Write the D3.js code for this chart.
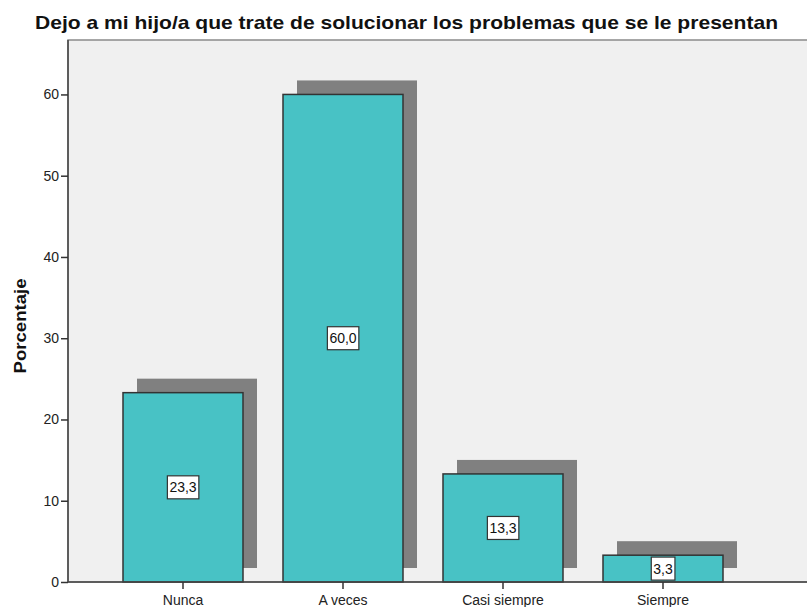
<!DOCTYPE html>
<html>
<head>
<meta charset="utf-8">
<script src="https://cdn.jsdelivr.net/npm/d3@7"></script>
<style>
  body { margin: 0; background: #fff; }
  text { font-family: "Liberation Sans", Arial, sans-serif; }
</style>
</head>
<body>
<svg width="807" height="607"></svg>
<script>
var categories = ["Nunca", "A veces", "Casi siempre", "Siempre"];
var values = [23.3, 60.0, 13.3, 3.3];
var yTicks = [0, 10, 20, 30, 40, 50, 60];

var svg = d3.select("svg"),
    width = +svg.attr("width"),
    height = +svg.attr("height"),
    margin = {top: 40, right: 0, bottom: 25, left: 68};

var y = d3.scaleLinear()
    .domain([0, 66.7])
    .range([height - margin.bottom, margin.top]);

var x = d3.scaleBand()
    .domain(categories)
    .range([103, 743])
    .paddingInner(0.25)
    .paddingOuter(0.125);

var shadow = 14;

// plot background
svg.append("rect")
    .attr("x", margin.left)
    .attr("y", margin.top)
    .attr("width", width - margin.left + 2)
    .attr("height", y(0) - margin.top)
    .attr("fill", "#f0f0f0")
    .attr("stroke", "#8a8a8a")
    .attr("stroke-width", 1.5);

// shadows
svg.append("g")
    .attr("fill", "#808080")
  .selectAll("rect")
  .data(values)
  .enter().append("rect")
    .attr("x", function(d, i) { return x(categories[i]) + shadow; })
    .attr("y", function(d) { return y(d) - shadow; })
    .attr("width", x.bandwidth())
    .attr("height", function(d) { return y(0) - y(d); });

// bars
svg.append("g")
  .selectAll("rect")
  .data(values)
  .enter().append("rect")
    .attr("x", function(d, i) { return x(categories[i]); })
    .attr("y", function(d) { return y(d); })
    .attr("width", x.bandwidth())
    .attr("height", function(d) { return y(0) - y(d); })
    .attr("fill", "#48c2c5")
    .attr("stroke", "#333")
    .attr("stroke-width", 1.5);

// value labels
var lab = svg.append("g")
  .selectAll("g")
  .data(values)
  .enter().append("g")
    .attr("transform", function(d, i) {
      return "translate(" + (x(categories[i]) + x.bandwidth() / 2) + "," + ((y(d) + y(0)) / 2) + ")";
    });

lab.append("text")
    .attr("text-anchor", "middle")
    .attr("dy", "0.36em")
    .attr("font-size", 14)
    .attr("fill", "#111")
    .text(function(d) { return d.toFixed(1).replace(".", ","); })
    .each(function() {
      var b = this.getBBox();
      d3.select(this.parentNode).insert("rect", "text")
          .attr("x", b.x - 2)
          .attr("y", -11.5)
          .attr("width", b.width + 4)
          .attr("height", 23)
          .attr("fill", "#fff")
          .attr("stroke", "#333")
          .attr("stroke-width", 1.2);
    });

// y axis
var yAxis = svg.append("g")
    .attr("transform", "translate(" + margin.left + ",0)")
    .call(d3.axisLeft(y).tickValues(yTicks).tickSize(7).tickPadding(2).tickSizeOuter(0));
yAxis.select(".domain").attr("stroke", "#444").attr("stroke-width", 1.5)
    .attr("d", "M0," + margin.top + "V" + y(0));
yAxis.selectAll(".tick line").attr("stroke", "#333").attr("stroke-width", 1.5);
yAxis.selectAll(".tick text").attr("font-size", 14).attr("fill", "#222")
    .attr("font-family", "Liberation Sans, Arial, sans-serif");

// x axis
var xAxis = svg.append("g")
    .attr("transform", "translate(0," + y(0) + ")")
    .call(d3.axisBottom(x).tickSize(7).tickSizeOuter(0));
xAxis.select(".domain").attr("stroke", "#444").attr("stroke-width", 1.5)
    .attr("d", "M" + margin.left + ",0H" + width);
xAxis.selectAll(".tick line").attr("stroke", "#333").attr("stroke-width", 1.5);
xAxis.selectAll(".tick text").attr("font-size", 14).attr("fill", "#222").attr("dy", "0.9em")
    .attr("font-family", "Liberation Sans, Arial, sans-serif");

// y title
svg.append("text")
    .attr("transform", "translate(26," + 326 + ") rotate(-90)")
    .attr("text-anchor", "middle")
    .attr("font-size", 17)
    .attr("font-weight", "bold")
    .attr("fill", "#111")
    .attr("textLength", 95)
    .attr("lengthAdjust", "spacingAndGlyphs")
    .text("Porcentaje");

// title
svg.append("text")
    .attr("x", 406.5)
    .attr("y", 29)
    .attr("text-anchor", "middle")
    .attr("font-size", 19)
    .attr("font-weight", "bold")
    .attr("fill", "#111")
    .attr("textLength", 743)
    .attr("lengthAdjust", "spacingAndGlyphs")
    .text("Dejo a mi hijo/a que trate de solucionar los problemas que se le presentan");
</script>
</body>
</html>
